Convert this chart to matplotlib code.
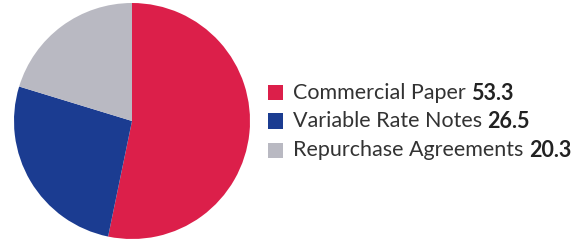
import matplotlib
matplotlib.use("Agg")
import matplotlib.pyplot as plt
from matplotlib.patches import Rectangle

CATEGORIES = ["Commercial Paper", "Variable Rate Notes", "Repurchase Agreements"]
VALUES = [53.3, 26.5, 20.3]
COLORS = ["#dc1f4a", "#1b3c91", "#b9b9c2"]

W, H = 577, 243
DPI = 100


def main() -> None:
    fig = plt.figure(figsize=(W / DPI, H / DPI), dpi=DPI)
    fig.patch.set_facecolor("white")

    # pie axes in pixel units: center ~ (132, 122), radius ~ 118
    cx, cy, r = 132, 121, 118
    ax = fig.add_axes([(cx - r) / W, (H - cy - r) / H, 2 * r / W, 2 * r / H])
    ax.pie(VALUES, colors=COLORS, startangle=90, counterclock=False,
           wedgeprops={"linewidth": 0})
    ax.set_aspect("equal")
    ax.set_xlim(-1, 1)
    ax.set_ylim(-1, 1)
    ax.axis("off")

    renderer = fig.canvas.get_renderer()
    rows_y = [93, 121, 150]
    for name, value, color, y in zip(CATEGORIES, VALUES, COLORS, rows_y):
        fig.patches.append(Rectangle((268 / W, (H - y - 7.5) / H), 15 / W, 15 / H,
                                     transform=fig.transFigure, facecolor=color,
                                     edgecolor="none"))
        t = fig.text(293 / W, (H - y) / H, name + " ", fontsize=15.5, family="Lato",
                     weight="normal", color="#333333", va="center", ha="left")
        bb = t.get_window_extent(renderer)
        fig.text(bb.x1 / W, (H - y) / H, f"{value:.1f}", fontsize=15.5, family="Lato",
                 weight="bold", color="#222222", va="center", ha="left")

    fig.savefig("out.png", dpi=DPI)
    plt.close(fig)


if __name__ == "__main__":
    main()
